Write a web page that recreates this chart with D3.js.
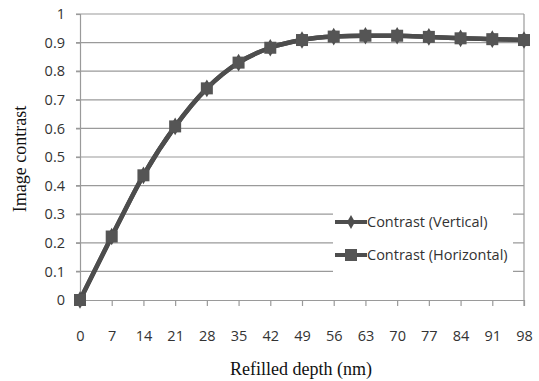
<!DOCTYPE html>
<html lang="en">
<head>
<meta charset="UTF-8">
<script src="https://d3js.org/d3.v7.min.js"></script>
<style>
    body{ margin:0; background:#fff; }
    .tick text{ font-family: "Open Sans", "Noto Sans", sans-serif; font-size: 14.5px; fill:#333; }
    .title{ font-family: "Liberation Serif", "DejaVu Serif", serif; font-size: 18px; fill:#111; }
    .legend text{ font-family: "Open Sans", "Noto Sans", sans-serif; font-size: 14.5px; fill:#333; }
</style>
</head>
<body>
<svg width="539" height="381"></svg>
<script>
    // depths (nm) and contrast values
    const depths = [0, 7, 14, 21, 28, 35, 42, 49, 56, 63, 70, 77, 84, 91, 98]
    const vertical = [0, 0.222, 0.436, 0.607, 0.740, 0.830, 0.882, 0.909, 0.921, 0.924, 0.924, 0.920, 0.915, 0.912, 0.909]
    const horizontal = [0, 0.222, 0.436, 0.607, 0.740, 0.830, 0.882, 0.909, 0.921, 0.924, 0.924, 0.920, 0.915, 0.912, 0.909]
    const yTicks = [0, 0.1, 0.2, 0.3, 0.4, 0.5, 0.6, 0.7, 0.8, 0.9, 1]
    const seriesNames = ["Contrast (Vertical)", "Contrast (Horizontal)"]

    const svg = d3.select("svg")
    const plotLeft = 80, plotRight = 524, plotTop = 14, plotBottom = 300
    const lineColor = "#4d4d4d"
    const gridColor = "#9a9a9a"

    let x = d3.scaleLinear().domain([0, 98]).range([plotLeft, plotRight])
    let y = d3.scaleLinear().domain([0, 1]).range([plotBottom, plotTop])

    // gridlines
    svg.append("g")
        .selectAll("line")
        .data(yTicks.slice(1))
        .enter()
        .append("line")
        .attr("x1", plotLeft - 4).attr("x2", plotRight)
        .attr("y1", d => y(d)).attr("y2", d => y(d))
        .attr("stroke", gridColor).attr("stroke-width", 1.2)

    // right border
    svg.append("line")
        .attr("x1", plotRight).attr("x2", plotRight)
        .attr("y1", plotTop).attr("y2", plotBottom + 6)
        .attr("stroke", gridColor).attr("stroke-width", 1.2)

    // y axis
    let yAxis = svg.append("g")
        .attr("transform", `translate(${plotLeft},0)`)
        .call(d3.axisLeft(y).tickValues(yTicks).tickSize(4).tickPadding(11)
            .tickFormat(d => d === 0 || d === 1 ? d3.format("d")(d) : d3.format(".1f")(d)))
    yAxis.select(".domain").attr("stroke", gridColor).attr("stroke-width", 1.2)
    yAxis.selectAll(".tick line").attr("stroke", gridColor).attr("stroke-width", 1.2)

    // x axis
    let xAxis = svg.append("g")
        .attr("transform", `translate(0,${plotBottom})`)
        .call(d3.axisBottom(x).tickValues(depths).tickSize(6).tickPadding(25).tickSizeOuter(0))
    xAxis.select(".domain").attr("stroke", gridColor).attr("stroke-width", 1.2)
    xAxis.selectAll(".tick line").attr("stroke", gridColor).attr("stroke-width", 1.2)

    // axis titles
    svg.append("text").attr("class", "title")
        .attr("x", 301).attr("y", 375)
        .attr("text-anchor", "middle")
        .text("Refilled depth (nm)")
    svg.append("text").attr("class", "title")
        .attr("transform", "translate(26,159) rotate(-90)")
        .attr("text-anchor", "middle")
        .text("Image contrast")

    // smoothed line like the original
    let line = d3.line()
        .x((d, i) => x(depths[i]))
        .y(d => y(d))
        .curve(d3.curveMonotoneX)

    // vertical series (diamond)
    svg.append("path").datum(vertical)
        .attr("d", line).attr("fill", "none")
        .attr("stroke", lineColor).attr("stroke-width", 4.5)
    svg.append("g").selectAll("path")
        .data(vertical).enter().append("path")
        .attr("d", d3.symbol().type(d3.symbolDiamond).size(90))
        .attr("transform", (d, i) => `translate(${x(depths[i])},${y(d)})`)
        .attr("fill", lineColor)

    // horizontal series (square)
    svg.append("path").datum(horizontal)
        .attr("d", line).attr("fill", "none")
        .attr("stroke", lineColor).attr("stroke-width", 4.5)
    svg.append("g").selectAll("rect")
        .data(horizontal).enter().append("rect")
        .attr("x", (d, i) => x(depths[i]) - 6)
        .attr("y", d => y(d) - 6)
        .attr("width", 12).attr("height", 12)
        .attr("fill", "#555")

    // legend
    let legend = svg.append("g").attr("class", "legend")
    legend.append("rect")
        .attr("x", 333).attr("y", 198).attr("width", 180).attr("height", 86)
        .attr("fill", "#fff")
    let entries = legend.selectAll(".entry")
        .data(seriesNames).enter().append("g")
        .attr("transform", (d, i) => `translate(335,${222 + i * 33})`)
    entries.append("line")
        .attr("x1", 0).attr("x2", 32)
        .attr("stroke", lineColor).attr("stroke-width", 4)
    entries.filter((d, i) => i === 0).append("path")
        .attr("d", d3.symbol().type(d3.symbolDiamond).size(55))
        .attr("transform", "translate(16,0)").attr("fill", lineColor)
    entries.filter((d, i) => i === 1).append("rect")
        .attr("x", 10).attr("y", -6).attr("width", 12).attr("height", 12)
        .attr("fill", "#555")
    entries.append("text")
        .attr("x", 32).attr("y", 5)
        .text(d => d)
</script>
</body>
</html>
